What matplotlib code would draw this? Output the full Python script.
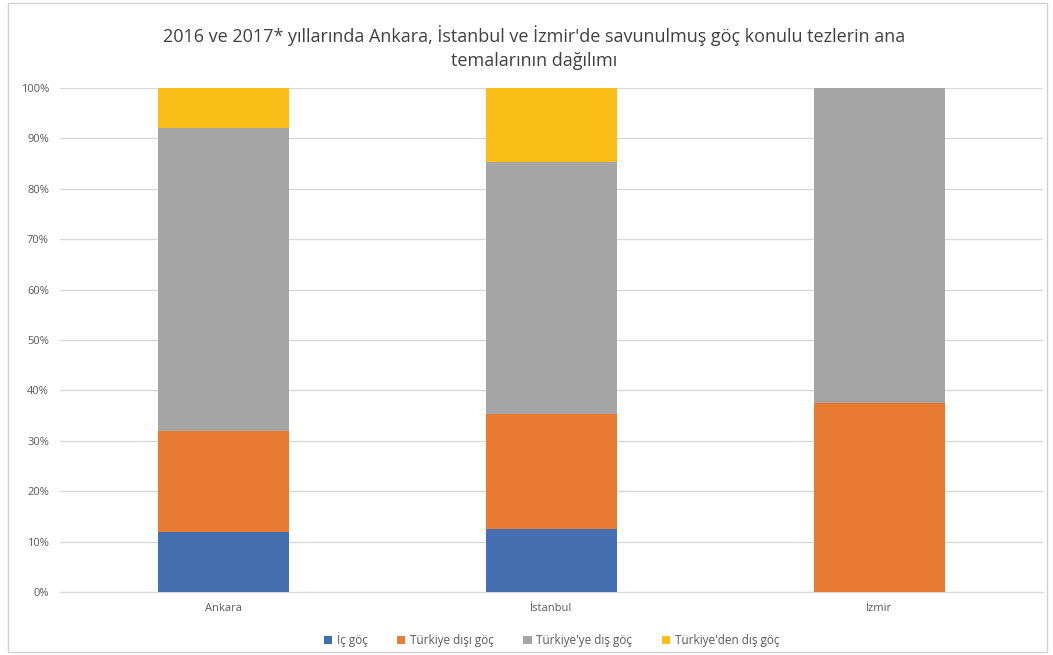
import matplotlib.pyplot as plt
from matplotlib.patches import Rectangle
from matplotlib.ticker import PercentFormatter

cities = ['Ankara', 'İstanbul', 'İzmir']
series = ['İç göç', 'Türkiye dışı göç', "Türkiye'ye dış göç", "Türkiye'den dış göç"]
colors = ['#4470B2', '#E97A32', '#A5A5A5', '#FBBD17']

# shares in percent
ic_goc = [12.0, 12.5, 0.0]
disi_goc = [20.0, 22.9, 37.5]
turkiyeye = [60.0, 50.0, 62.5]
turkiyeden = [8.0, 14.6, 0.0]
values = [ic_goc, disi_goc, turkiyeye, turkiyeden]

plt.rcParams['font.family'] = ['Open Sans', 'DejaVu Sans']

fig = plt.figure(figsize=(10.53, 6.55), dpi=100)
fig.patches.append(Rectangle((0.008, 0.004), 0.986, 0.992, transform=fig.transFigure,
                             fill=False, edgecolor='#d0d0d0', linewidth=1))
ax = fig.add_axes([0.057, 0.0962, 0.9335, 0.7694])

x = range(len(cities))
bottom = [0, 0, 0]
for name, vals, col in zip(series, values, colors):
    ax.bar(x, vals, 0.4, bottom=bottom, color=col, label=name, zorder=3)
    bottom = [b + v for b, v in zip(bottom, vals)]

ax.set_xlim(-0.5, 2.5)
ax.set_ylim(0, 100)
ax.set_yticks(range(0, 101, 10))
ax.yaxis.set_major_formatter(PercentFormatter(decimals=0))
ax.set_xticks(list(x))
ax.set_xticklabels(cities)
ax.grid(axis='y', color='#d9d9d9', linewidth=1, zorder=0)
for s in ['top', 'right', 'left']:
    ax.spines[s].set_visible(False)
ax.spines['bottom'].set_color('#d9d9d9')
ax.tick_params(axis='both', length=0, labelsize=8, colors='#595959', pad=8)

fig.suptitle("2016 ve 2017* yıllarında Ankara, İstanbul ve İzmir'de savunulmuş göç konulu tezlerin ana\ntemalarının dağılımı",
             x=0.507, y=0.962, fontsize=13, color='#404040', linespacing=1.45)

ax.legend(loc='upper center', bbox_to_anchor=(0.5, -0.058), ncol=4, frameon=False,
          fontsize=8.5, handlelength=0.7, handleheight=0.7, columnspacing=2.5,
          handletextpad=0.4, labelcolor='#595959')

fig.savefig('out.png', dpi=100)
